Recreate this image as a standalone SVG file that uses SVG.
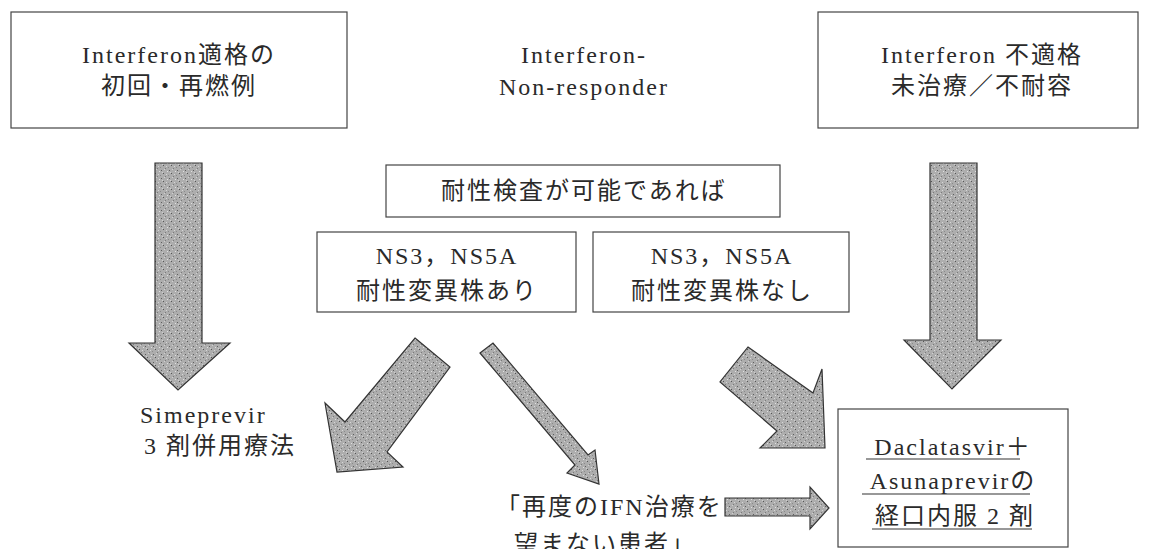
<svg xmlns="http://www.w3.org/2000/svg" width="1149" height="549" viewBox="0 0 1149 549">
<defs>
<pattern id="grain" width="8" height="8" patternUnits="userSpaceOnUse">
<rect width="8" height="8" fill="#adadad"/>
<rect x="1" y="2" width="1" height="1" fill="#5e5e5e"/>
<rect x="5" y="0" width="1" height="1" fill="#7a7a7a"/>
<rect x="3" y="5" width="1" height="1" fill="#555"/>
<rect x="6" y="6" width="1" height="1" fill="#d6d6d6"/>
<rect x="0" y="7" width="1" height="1" fill="#8a8a8a"/>
<rect x="7" y="3" width="1" height="1" fill="#e0e0e0"/>
<rect x="4" y="1" width="1" height="1" fill="#d0d0d0"/>
<rect x="2" y="4" width="1" height="1" fill="#cfcfcf"/>
</pattern>
</defs>
<style>
.box{fill:#fff;stroke:#444;stroke-width:1.2}
.t{font-family:"Liberation Serif","Noto Sans CJK JP",serif;font-size:24px;fill:#2a2a2a;letter-spacing:2px}
.c{text-anchor:middle}
.arrow{fill:url(#grain);stroke:#333;stroke-width:1.2;stroke-linejoin:miter}
.ul{stroke:#333;stroke-width:1.2}
</style>
<rect width="1149" height="549" fill="#fff"/>

<g id="ifn-eligible">
<rect class="box" x="11" y="12" width="336" height="116"/>
<text class="t c" x="179" y="63">Interferon適格の</text>
<text class="t c" x="179" y="94">初回・再燃例</text>
</g>

<g id="ifn-nonresponder">
<text class="t c" x="584" y="63">Interferon-</text>
<text class="t c" x="584" y="95">Non-responder</text>
</g>

<g id="ifn-ineligible">
<rect class="box" x="818" y="12" width="320" height="116"/>
<text class="t c" x="982" y="63">Interferon 不適格</text>
<text class="t c" x="982" y="94">未治療／不耐容</text>
</g>

<g id="resistance-test">
<rect class="box" x="386" y="165" width="394" height="52"/>
<text class="t c" x="584" y="199">耐性検査が可能であれば</text>
</g>

<g id="mutant-yes">
<rect class="box" x="317" y="232" width="259" height="80"/>
<text class="t c" x="447" y="264">NS3，NS5A</text>
<text class="t c" x="447" y="299">耐性変異株あり</text>
</g>

<g id="mutant-no">
<rect class="box" x="593" y="232" width="256" height="80"/>
<text class="t c" x="722" y="264">NS3，NS5A</text>
<text class="t c" x="722" y="299">耐性変異株なし</text>
</g>

<g id="simeprevir">
<text class="t" x="140" y="423">Simeprevir</text>
<text class="t" x="144" y="454">3 剤併用療法</text>
</g>

<g id="no-ifn-again">
<text class="t" x="496" y="515">「再度のIFN治療を</text>
<text class="t" x="514" y="552">望まない患者」</text>
</g>

<g id="dcv-asv">
<rect class="box" x="838" y="409" width="230" height="138"/>
<text class="t c" x="953" y="455">Daclatasvir＋</text>
<text class="t c" x="953" y="489">Asunaprevirの</text>
<text class="t c" x="955" y="524">経口内服 2 剤</text>
<line class="ul" x1="866" y1="459" x2="1020" y2="459"/>
<line class="ul" x1="862" y1="494" x2="1030" y2="494"/>
<line class="ul" x1="872" y1="529" x2="1032" y2="529"/>
</g>

<g id="connectors">
<polygon class="arrow" points="155,163 202,163 202,343 230,343 178,390 129,343 155,343"/>
<polygon class="arrow" points="930,163 977,163 977,340 1001,340 952,389 904,340 930,340"/>
<polygon class="arrow" points="415,338 450,367 387,452 403,467 337,472 325,403 345,422"/>
<polygon class="arrow" points="480,353 493,343 588,455 595,450 599,484 567,473 575,465"/>
<polygon class="arrow" points="748,347 813,393 822,369 825,448 760,448 777,431 720,382"/>
<polygon class="arrow" points="725,498 810,498 810,487 829,508 810,529 810,516 725,516"/>
</g>
</svg>
